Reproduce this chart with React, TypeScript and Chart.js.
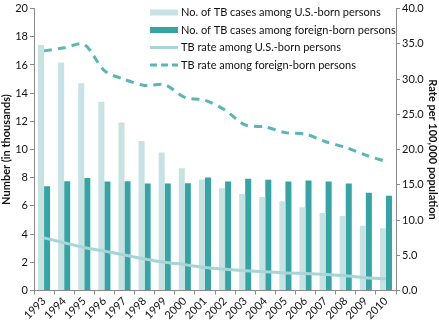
import React, { useEffect, useRef } from "react";
import { Chart, registerables } from "chart.js";

Chart.register(...registerables);

const years = ["1993","1994","1995","1996","1997","1998","1999","2000","2001","2002","2003","2004","2005","2006","2007","2008","2009","2010"];
const usBornCases = [17.42,16.17,14.70,13.40,11.92,10.61,9.79,8.67,7.87,7.26,6.84,6.63,6.33,5.91,5.49,5.28,4.60,4.41];
const foreignBornCases = [7.40,7.75,7.99,7.73,7.75,7.59,7.59,7.61,8.01,7.73,7.92,7.85,7.73,7.80,7.73,7.59,6.93,6.72];
const usBornRate = [7.47,6.77,6.10,5.59,5.03,4.47,4.00,3.67,3.25,3.00,2.80,2.65,2.50,2.40,2.27,2.08,1.80,1.66];
const foreignBornRate = [34.0,34.45,34.9,31.2,29.95,29.1,29.2,27.4,27.0,25.6,23.5,23.2,22.4,22.2,21.1,20.3,19.2,18.3];

const leftTicks = [0,2,4,6,8,10,12,14,16,18,20];
const rightTicks = [0,5,10,15,20,25,30,35,40];

const legendLabels = [
  "No. of TB cases among U.S.-born persons",
  "No. of TB cases among foreign-born persons",
  "TB rate among U.S.-born persons",
  "TB rate among foreign-born persons",
];

const LIGHT = "#c6e2e3";
const DARK = "#35a4a4";
const LINE_LIGHT = "#a7d4d5";
const LINE_DASH = "#59b5b7";
const AXIS = "#8a8a8a";
const FONT = "Lato";

const legendPlugin = {
  id: "customLegend",
  afterDraw(chart: any) {
    const ctx = chart.ctx;
    const x0 = 150;
    const x1 = 178;
    const rows = [12.5, 30, 47.5, 65];
    ctx.save();
    // light box
    ctx.fillStyle = LIGHT;
    ctx.fillRect(x0, rows[0] - 3, x1 - x0, 6);
    ctx.fillStyle = DARK;
    ctx.fillRect(x0, rows[1] - 3, x1 - x0, 6);
    ctx.strokeStyle = LINE_LIGHT;
    ctx.lineWidth = 3;
    ctx.beginPath();
    ctx.moveTo(x0, rows[2]);
    ctx.lineTo(x1, rows[2]);
    ctx.stroke();
    ctx.strokeStyle = LINE_DASH;
    ctx.setLineDash([7, 4]);
    ctx.beginPath();
    ctx.moveTo(x0, rows[3]);
    ctx.lineTo(x1, rows[3]);
    ctx.stroke();
    ctx.setLineDash([]);
    ctx.fillStyle = "#111";
    ctx.font = `11px ${FONT}`;
    ctx.textBaseline = "middle";
    ctx.textAlign = "left";
    legendLabels.forEach((t, i) => ctx.fillText(t, 181, rows[i]));
    ctx.restore();
  },
};

export default function App() {
  const ref = useRef<HTMLCanvasElement>(null);
  useEffect(() => {
    if (!ref.current) return;
    const chart = new Chart(ref.current, {
      type: "bar",
      data: {
        labels: years,
        datasets: [
          {
            type: "line",
            label: legendLabels[2],
            data: usBornRate,
            yAxisID: "y1",
            borderColor: LINE_LIGHT,
            borderWidth: 3,
            pointRadius: 0,
            tension: 0.3,
            order: 1,
          },
          {
            type: "line",
            label: legendLabels[3],
            data: foreignBornRate,
            yAxisID: "y1",
            borderColor: LINE_DASH,
            borderWidth: 3,
            borderDash: [8, 6],
            pointRadius: 0,
            tension: 0.3,
            order: 0,
          },
          {
            type: "bar",
            label: legendLabels[0],
            data: usBornCases,
            yAxisID: "y",
            backgroundColor: LIGHT,
            categoryPercentage: 0.6,
            barPercentage: 1.0,
            order: 3,
          },
          {
            type: "bar",
            label: legendLabels[1],
            data: foreignBornCases,
            yAxisID: "y",
            backgroundColor: DARK,
            categoryPercentage: 0.6,
            barPercentage: 1.0,
            order: 3,
          },
        ],
      } as any,
      options: {
        animation: false,
        responsive: false,
        maintainAspectRatio: false,
        layout: { padding: { top: 5, left: 0, right: 0, bottom: 0 } },
        plugins: {
          legend: { display: false },
          tooltip: { enabled: false },
        },
        scales: {
          x: {
            grid: { drawOnChartArea: false, drawTicks: true, tickLength: 4, color: AXIS, offset: true },
            border: { display: true, color: AXIS },
            ticks: {
              color: "#111",
              font: { family: FONT, size: 11 },
              maxRotation: 45,
              minRotation: 45,
              autoSkip: false,
              padding: 0,
            },
            afterFit(scale: any) {
              scale.height = 30.5;
            },
          },
          y: {
            position: "left",
            min: 0,
            max: 20,
            afterBuildTicks(scale: any) {
              scale.ticks = leftTicks.map((v) => ({ value: v }));
            },
            grid: { drawOnChartArea: false, drawTicks: true, tickLength: 4, color: AXIS },
            border: { display: true, color: AXIS },
            ticks: {
              color: "#111",
              font: { family: FONT, size: 11 },
              padding: 2,
              callback: (v: any) => String(v),
            },
            title: {
              display: true,
              text: "Number (in thousands)",
              color: "#111",
              font: { family: FONT, size: 11, weight: "bold" },
              padding: 0,
            },
            afterFit(scale: any) {
              scale.width = 34;
            },
          },
          y1: {
            position: "right",
            min: 0,
            max: 40,
            afterBuildTicks(scale: any) {
              scale.ticks = rightTicks.map((v) => ({ value: v }));
            },
            grid: { drawOnChartArea: false, drawTicks: true, tickLength: 4, color: AXIS },
            border: { display: true, color: AXIS },
            ticks: {
              color: "#111",
              font: { family: FONT, size: 11 },
              padding: 2,
              callback: (v: any) => Number(v).toFixed(1),
            },
            title: {
              display: true,
              text: "Rate per 100,000 population",
              color: "#111",
              font: { family: FONT, size: 11, weight: "bold" },
              padding: 0,
            },
            afterFit(scale: any) {
              scale.width = 43;
            },
          },
        },
      } as any,
      plugins: [legendPlugin],
    });
    return () => chart.destroy();
  }, []);
  return (
    <div style={{ position: "absolute", left: 0, top: 0, width: 439, height: 321, background: "#fff" }}>
      <canvas ref={ref} width={439} height={321} style={{ width: 439, height: 321 }} />
    </div>
  );
}
